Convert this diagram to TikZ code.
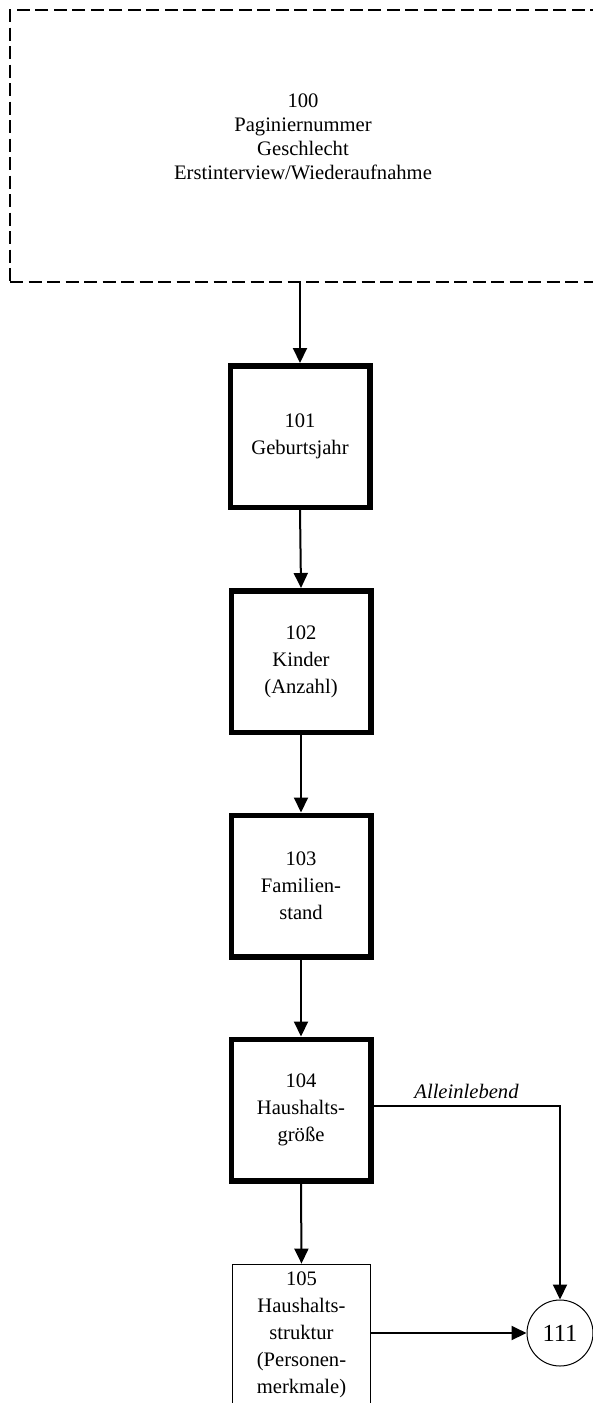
\documentclass[tikz,border=0pt]{standalone}
\usepackage{fontspec}
\setmainfont{Liberation Serif}
\usetikzlibrary{arrows.meta,calc}
\begin{document}
\begin{tikzpicture}[x=1pt,y=-1pt,
  boxfont/.style={font=\fontsize{20.6}{27}\selectfont},
  thickbox/.style={draw, line width=5.5pt, minimum width=139.5pt, minimum height=141.5pt, inner sep=0pt, align=center, boxfont},
  thinbox/.style={draw, line width=1.3pt, minimum width=137.5pt, minimum height=141.5pt, inner sep=0pt, align=center, boxfont},
  dashbox/.style={draw, line width=1.5pt, dash pattern=on 13pt off 5.5pt, minimum width=586pt, minimum height=272pt, inner sep=0pt},
  toptext/.style={align=center, inner sep=0pt, font=\fontsize{20.6}{24}\selectfont},
  target/.style={draw, circle, line width=1pt, minimum size=66pt, inner sep=0pt, font=\fontsize{24.5}{28}\selectfont},
  conn/.style={line width=2pt, -{Triangle[length=15pt,width=14pt]}},
  edgelabel/.style={inner sep=0pt, anchor=base, font=\fontsize{20.6}{24}\selectfont\itshape}]
\useasboundingbox (0,0) rectangle (593,1403);
\clip (0,0) rectangle (593,1403);

\node[dashbox] (n100) at (303,146) {};
\node[toptext] (t100) at (303,137) {100\\Paginiernummer\\Geschlecht\\Erstinterview/Wiederaufnahme};

\node[thickbox] (n101) at (300,436.5) {101\\Geburtsjahr};
\node[thickbox] (n102) at (301,661.5) {102\\Kinder\\(Anzahl)};
\node[thickbox] (n103) at (301,886) {103\\Familien-\\stand};
\node[thickbox] (n104) at (301,1110) {104\\Haushalts-\\größe};
\node[thinbox] (n105) at (301.5,1335) {105\\Haushalts-\\struktur\\(Personen-\\merkmale)};
\node[target] (n111) at (560,1333) {111};

\coordinate (c104) at (373,1106);

\draw[conn] (n101.north |- n100.south) -- (n101.north);
\draw[conn] (n101.south) -- (n102.north);
\draw[conn] (n102.south) -- (n103.north);
\draw[conn] (n103.south) -- (n104.north);
\draw[conn] (n104.south) -- (n105.north);
\draw[conn] (c104) -| node[edgelabel, pos=0.25, yshift=8pt] (l1) {Alleinlebend} (n111.north);
\draw[conn] (n105.east |- n111.west) -- (n111.west);
\end{tikzpicture}
\end{document}
